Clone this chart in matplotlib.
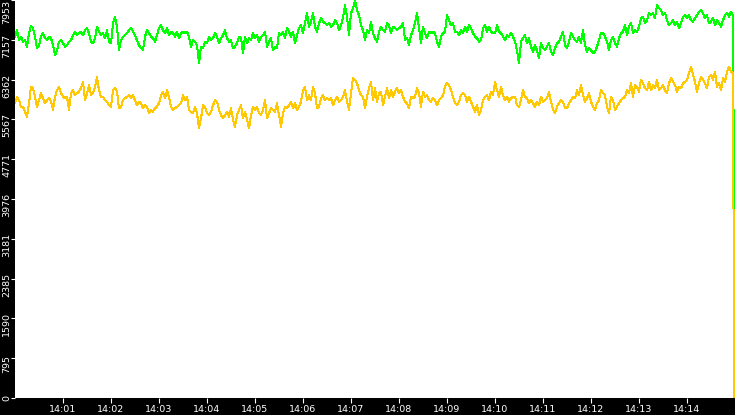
import numpy as np
import pandas as pd
import matplotlib
matplotlib.use("Agg")
import matplotlib.pyplot as plt
import matplotlib.dates as mdates
import matplotlib.transforms as mtransforms

# ---- data ----
green_1 = [7220, 7350, 7150, 7220, 7120, 7150, 7020, 7290, 7430, 7390,
           7220, 6990, 7050, 7220, 7290, 7190, 7150, 7220, 7190, 7050,
           6850, 6950, 7120, 7150, 7090, 7020, 7050, 7120, 7150, 7250,
           7320, 7250, 7290, 7320, 7250, 7350, 7390, 7290, 7120, 7090,
           7190, 7420, 7320, 7250, 7290, 7190, 7350, 7120, 7090, 7490,
           7620, 7420, 6950, 7150, 7220, 7250, 7290, 7350, 7390, 7320]
green_2 = [7250, 7150, 7050, 6990, 6950, 7220, 7350, 7290, 7220, 7190,
           7120, 7250, 7390, 7450, 7350, 7290, 7390, 7250, 7320, 7290,
           7220, 7320, 7190, 7290, 7320, 7290, 7320, 7220, 7020, 7150,
           7120, 7050, 6690, 7020, 6990, 7120, 7090, 7220, 7150, 7190,
           7290, 7220, 7090, 7190, 7250, 7350, 7190, 7120, 7150, 6990,
           7020, 7090, 7220, 7190, 6890, 7220, 7090, 7190, 7150, 7290]
green_3 = [7190, 7250, 7120, 7220, 7250, 7320, 7020, 7120, 7190, 6950,
           7020, 6990, 7290, 7250, 7320, 7190, 7390, 7320, 7220, 7320,
           7090, 7250, 7390, 7450, 7290, 7490, 7690, 7420, 7520, 7690,
           7420, 7320, 7490, 7590, 7520, 7490, 7450, 7490, 7420, 7450,
           7550, 7490, 7350, 7450, 7590, 7850, 7620, 7250, 7690, 7790,
           7950, 7750, 7650, 7450, 7350, 7150, 7350, 7290, 7520, 7290]
green_4 = [7190, 7120, 7320, 7420, 7350, 7320, 7490, 7450, 7290, 7420,
           7390, 7350, 7390, 7420, 7490, 7150, 7190, 7050, 7250, 7350,
           7490, 7690, 7390, 7090, 7420, 7290, 7190, 7320, 7290, 7320,
           7290, 7120, 7020, 7220, 7290, 7320, 7650, 7550, 7450, 7490,
           7320, 7320, 7250, 7350, 7290, 7420, 7320, 7450, 7390, 7290,
           7220, 7190, 7120, 7150, 7390, 7450, 7320, 7420, 7320, 7290]
green_5 = [7290, 7450, 7320, 7290, 7220, 7150, 7250, 7220, 7290, 7220,
           7120, 6950, 6690, 7120, 7190, 7250, 7090, 7190, 7020, 6920,
           7050, 6950, 6790, 7090, 6990, 6950, 7020, 7090, 6920, 6850,
           6990, 7090, 7120, 7220, 7320, 7050, 6990, 7120, 7290, 7220,
           7150, 7120, 7220, 7090, 7350, 7050, 6920, 6990, 6950, 6890,
           6920, 7020, 7150, 7290, 7290, 7220, 7120, 6950, 7150, 7220]
green_6 = [7090, 7020, 7190, 7290, 7320, 7450, 7250, 7420, 7490, 7290,
           7350, 7320, 7420, 7590, 7620, 7490, 7550, 7690, 7650, 7690,
           7590, 7850, 7790, 7750, 7650, 7690, 7550, 7450, 7490, 7550,
           7450, 7520, 7390, 7490, 7620, 7650, 7590, 7650, 7550, 7520,
           7590, 7650, 7720, 7750, 7690, 7590, 7650, 7490, 7520, 7590,
           7450, 7550, 7490, 7420, 7550, 7650, 7690, 7620, 7720, 7650]
green_last = [3180]

yellow_1 = [5890, 6020, 5950, 5820, 5820, 5720, 5620, 5890, 6220, 6190,
            6020, 5820, 5950, 6090, 5990, 5890, 5950, 5990, 5920, 5760,
            6020, 6150, 6220, 6090, 6020, 5990, 6020, 5760, 6090, 6150,
            6050, 6090, 6120, 6190, 6320, 5950, 6090, 6250, 6050, 6090,
            6220, 6410, 6150, 6020, 6020, 5950, 5920, 5850, 5820, 6150,
            6190, 6120, 5790, 5820, 5950, 5990, 6020, 6050, 5990, 6050]
yellow_2 = [5950, 5850, 5920, 5890, 5790, 5850, 5820, 5690, 5760, 5720,
            5790, 5820, 5890, 6050, 6120, 5990, 6150, 6020, 5820, 5760,
            5790, 5820, 5850, 5890, 6050, 5950, 6020, 5760, 5720, 5690,
            5820, 5690, 5390, 5590, 5850, 5820, 5690, 5650, 5720, 5850,
            5950, 5920, 5760, 5650, 5590, 5650, 5720, 5620, 5790, 5560,
            5420, 5650, 5760, 5850, 5590, 5720, 5560, 5390, 5650, 5820]
yellow_3 = [5760, 5820, 5690, 5650, 5760, 5950, 5590, 5690, 5790, 5760,
            5720, 5890, 5650, 5420, 5690, 5820, 5790, 5850, 5920, 5790,
            5890, 5760, 5820, 5920, 6150, 6220, 5950, 6050, 5950, 6220,
            6090, 5790, 5820, 5990, 6050, 5950, 5990, 5950, 5990, 5850,
            5950, 6020, 5920, 5950, 6020, 6150, 5920, 5760, 6090, 6390,
            6360, 6290, 6150, 6050, 6020, 5790, 6020, 6190, 6320, 5950]
yellow_4 = [6190, 5920, 6090, 6120, 5850, 6020, 6190, 5990, 6150, 6020,
            6120, 6190, 6090, 6150, 6020, 5920, 5890, 5790, 6020, 5990,
            6020, 6190, 6090, 5820, 6120, 6020, 6050, 5950, 5920, 5990,
            5950, 5850, 5950, 5990, 6050, 6220, 6290, 6250, 6150, 6020,
            5890, 5850, 5920, 6050, 6090, 6050, 5920, 6020, 5920, 5820,
            5720, 5850, 5650, 5760, 5950, 6020, 6050, 5950, 6120, 6050]
yellow_5 = [6320, 6150, 6020, 6220, 6050, 5950, 6020, 5920, 5990, 6020,
            6020, 5850, 5820, 5950, 6150, 6020, 5990, 5890, 5950, 5890,
            5820, 5920, 5850, 6020, 5920, 5950, 5990, 6120, 5920, 5760,
            5690, 5820, 5890, 5950, 5920, 5790, 5790, 5890, 5950, 6020,
            5990, 6150, 6050, 6250, 6050, 5920, 5990, 6090, 5920, 5820,
            5760, 5890, 5950, 6150, 6090, 6050, 5820, 5690, 6020, 5950]
yellow_6 = [5760, 5820, 5890, 5950, 5990, 6020, 6150, 6090, 6290, 6020,
            6250, 6220, 6120, 6360, 6290, 6190, 6150, 6320, 6150, 6250,
            6190, 6360, 6150, 6190, 6250, 6150, 6090, 6290, 6390, 6320,
            6250, 6120, 6220, 6190, 6290, 6320, 6360, 6490, 6620, 6460,
            6320, 6120, 6290, 6420, 6360, 6290, 6190, 6420, 6460, 6360,
            6520, 6220, 6290, 6150, 6390, 6320, 6520, 6620, 6520, 6490]
yellow_last = [0]

ytick_values = [0, 795, 1590, 2385, 3181, 3976, 4771, 5567, 6362, 7157, 7953]
ytick_labels = ["0", "795", "1590", "2385", "3181", "3976", "4771",
                "5567", "6362", "7157", "7953"]

SAMPLE_SECONDS = 2.5
LAST_SECONDS = 899
start = pd.Timestamp("2024-01-01 14:00:00")
end = pd.Timestamp("2024-01-01 14:15:00")

green = green_1 + green_2 + green_3 + green_4 + green_5 + green_6 + green_last
yellow = yellow_1 + yellow_2 + yellow_3 + yellow_4 + yellow_5 + yellow_6 + yellow_last

n_reg = len(green) - 1
secs = list(np.arange(n_reg) * SAMPLE_SECONDS) + [LAST_SECONDS]
times = [start + pd.Timedelta(seconds=float(s)) for s in secs]

# ---- figure ----
W, H = 735, 415
fig = plt.figure(figsize=(W / 100, H / 100), dpi=100, facecolor="black")
ax = fig.add_axes([15 / W, 17 / H, 720 / W, 398 / H])
ax.set_facecolor("white")
for s in ax.spines.values():
    s.set_visible(False)

ax.plot(times, green, color="#00FF00", lw=0.72, antialiased=False)
ax.plot(times, yellow, color="#FFC800", lw=0.72, antialiased=False)

ax.set_ylim(0, 7953)
ax.set_xlim(start, end)

ax.set_yticks(ytick_values)
ax.set_yticklabels([])
ax.tick_params(axis="y", direction="out", length=3.0, width=0.8, colors="white")

ax.xaxis.set_major_locator(mdates.MinuteLocator(byminute=range(1, 15)))
ax.xaxis.set_major_formatter(mdates.DateFormatter("%H:%M"))
ax.tick_params(axis="x", direction="out", length=3.6, width=0.8, colors="white",
               labelsize=6.8, pad=1.2)

base = mtransforms.blended_transform_factory(fig.transFigure, ax.transData)
for v, lab in zip(ytick_values, ytick_labels):
    if v == ytick_values[-1]:
        ax.text(6.5 / W, v, lab, transform=base, rotation=90, ha="center",
                va="top", color="white", fontsize=6.8)
    elif v == 0:
        ax.text(6.5 / W, v, lab, transform=base, rotation=90, ha="center",
                va="center", color="white", fontsize=6.8)
    else:
        off = base + mtransforms.ScaledTranslation(0, -0.06, fig.dpi_scale_trans)
        ax.text(6.5 / W, v, lab, transform=off, rotation=90, ha="center",
                va="center", color="white", fontsize=6.8)

fig.savefig("out.png", dpi=100, facecolor="black")
